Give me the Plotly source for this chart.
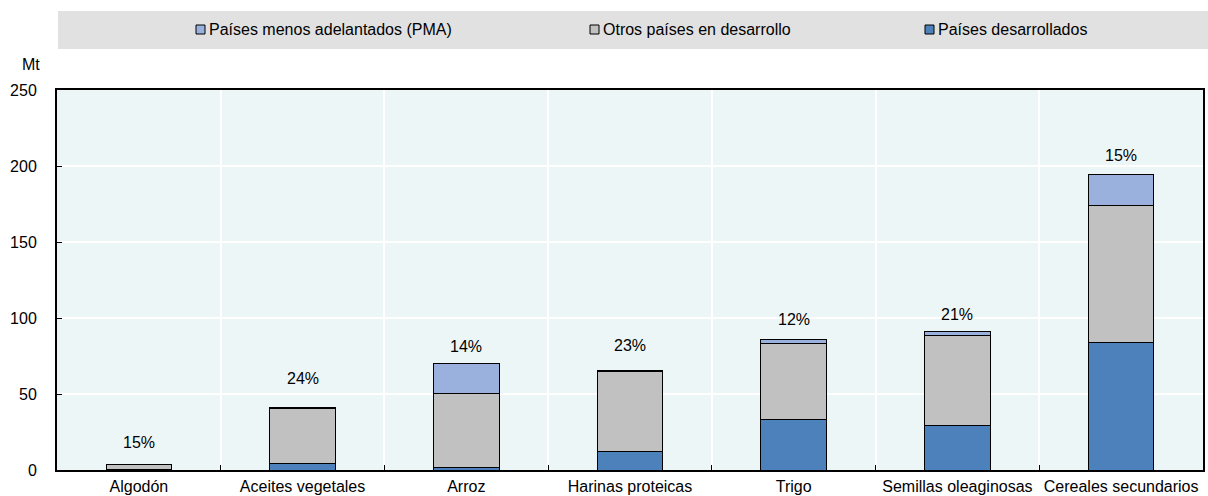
import plotly.graph_objects as go

# Commodities and tonnages (Mt) by country group
categories = ["Algodón", "Aceites vegetales", "Arroz", "Harinas proteicas",
              "Trigo", "Semillas oleaginosas", "Cereales secundarios"]
desarrollados = [0.2, 4.2, 1.8, 12.1, 32.9, 29.6, 83.6]
otros_desarrollo = [3.4, 36.4, 48.7, 52.6, 50.2, 59.2, 90.7]
pma = [0.2, 0.6, 19.7, 0.7, 2.9, 2.0, 19.8]

# Share labels shown above each bar and their vertical position (Mt)
share_labels = ["15%", "24%", "14%", "23%", "12%", "21%", "15%"]
share_label_y = [17.8, 60.0, 81.1, 81.6, 98.7, 102.6, 207.0]

series_names = ["Países desarrollados", "Otros países en desarrollo",
                "Países menos adelantados (PMA)"]
series_values = [desarrollados, otros_desarrollo, pma]
series_colors = ["#4D81BC", "#C0C1C0", "#99B1DC"]

FONT = "Liberation Sans, Arial, sans-serif"
W, H = 1208, 496
ML, MR, MT, MB = 57, 5, 90, 26
PW, PH = W - ML - MR, H - MT - MB


def px_x(x):
    return (x - ML) / PW


def px_y(y):
    return (H - MB - y) / PH


fig = go.Figure()
for name, vals, col in zip(series_names, series_values, series_colors):
    fig.add_trace(go.Bar(
        x=categories, y=vals, name=name,
        marker=dict(color=col, line=dict(color="#000000", width=1)),
        showlegend=False,
    ))

for cat, lab, yy in zip(categories, share_labels, share_label_y):
    fig.add_annotation(x=cat, y=yy, text=lab, showarrow=False,
                       xref="x", yref="y",
                       font=dict(family=FONT, size=16, color="#000000"))

shapes = []
# grey legend band across the top
shapes.append(dict(type="rect", xref="paper", yref="paper",
                   x0=px_x(58), x1=px_x(1208), y0=px_y(49), y1=px_y(11),
                   fillcolor="#E1E1E1", line=dict(width=0), layer="below"))

# legend entries (top-to-bottom stacking order)
legend_items = [(2, 196), (1, 590), (0, 925)]
for idx, x0 in legend_items:
    shapes.append(dict(type="rect", xref="paper", yref="paper",
                       x0=px_x(x0), x1=px_x(x0 + 9),
                       y0=px_y(34), y1=px_y(25),
                       fillcolor=series_colors[idx],
                       line=dict(color="#000000", width=1)))
    fig.add_annotation(x=px_x(x0 + 11), y=px_y(29.5), xref="paper", yref="paper",
                       text=series_names[idx], showarrow=False,
                       xanchor="left", yanchor="middle",
                       font=dict(family=FONT, size=16, color="#000000"))

# unit label above the y axis
fig.add_annotation(x=px_x(42), y=px_y(65), xref="paper", yref="paper",
                   text="Mt", showarrow=False, xanchor="right", yanchor="middle",
                   font=dict(family=FONT, size=16, color="#000000"))

fig.update_layout(
    width=W, height=H,
    margin=dict(l=ML, r=MR, t=MT, b=MB, pad=0, autoexpand=False),
    barmode="stack", bargap=0.6,
    paper_bgcolor="#FFFFFF", plot_bgcolor="#EDF6F7",
    font=dict(family=FONT, size=16, color="#000000"),
    shapes=shapes,
    showlegend=False,
)
fig.update_xaxes(
    type="category", tickson="boundaries", tickangle=0, automargin=False,
    showgrid=True, gridcolor="#FFFFFF", gridwidth=1.5,
    ticks="inside", ticklen=5, tickcolor="#000000", tickwidth=1,
    showline=True, linecolor="#000000", linewidth=2, mirror=True,
    tickfont=dict(family=FONT, size=16, color="#000000"),
    ticklabelstandoff=1,
)
fig.update_yaxes(
    range=[0, 250], dtick=50, tick0=0, automargin=False,
    showgrid=True, gridcolor="#FFFFFF", gridwidth=1.5, zeroline=False,
    ticks="inside", ticklen=5, tickcolor="#000000", tickwidth=1,
    showline=True, linecolor="#000000", linewidth=2, mirror=True,
    tickfont=dict(family=FONT, size=16, color="#000000"),
    ticklabelstandoff=15,
)

fig.write_html("out.html")
